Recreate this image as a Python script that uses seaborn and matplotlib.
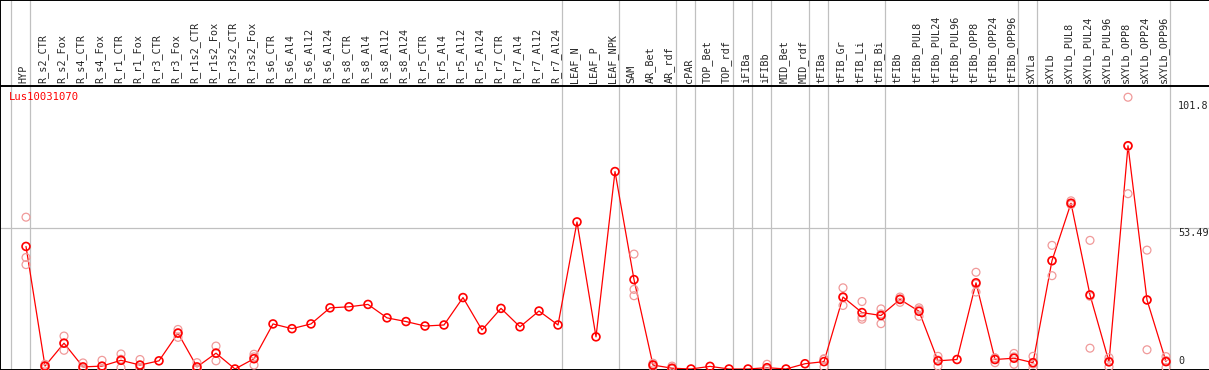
import numpy as np
import pandas as pd
import matplotlib
matplotlib.use("Agg")
import matplotlib.pyplot as plt
import matplotlib.transforms as mtransforms
import seaborn as sns

# Datos del perfil de expresion
gene = "Lus10031070"

samples = ["HYP", "R_s2_CTR", "R_s2_Fox", "R_s4_CTR", "R_s4_Fox", "R_r1_CTR", "R_r1_Fox",
           "R_r3_CTR", "R_r3_Fox", "R_r1s2_CTR", "R_r1s2_Fox", "R_r3s2_CTR", "R_r3s2_Fox",
           "R_s6_CTR", "R_s6_Al4", "R_s6_Al12", "R_s6_Al24", "R_s8_CTR", "R_s8_Al4",
           "R_s8_Al12", "R_s8_Al24", "R_r5_CTR", "R_r5_Al4", "R_r5_Al12", "R_r5_Al24",
           "R_r7_CTR", "R_r7_Al4", "R_r7_Al12", "R_r7_Al24", "LEAF_N", "LEAF_P", "LEAF_NPK",
           "SAM", "AR_Bet", "AR_rdf", "cPAR", "TOP_Bet", "TOP_rdf", "iFIBa", "iFIBb",
           "MID_Bet", "MID_rdf", "tFIBa", "tFIB_Gr", "tFIB_Li", "tFIB_Bi", "tFIBb",
           "tFIBb_PUL8", "tFIBb_PUL24", "tFIBb_PUL96", "tFIBb_OPP8", "tFIBb_OPP24",
           "tFIBb_OPP96", "sXYLa", "sXYLb", "sXYLb_PUL8", "sXYLb_PUL24", "sXYLb_PUL96",
           "sXYLb_OPP8", "sXYLb_OPP24", "sXYLb_OPP96"]

# tamano de cada grupo de muestras (lineas verticales grises)
group_sizes = [1, 28, 3, 3, 1, 2, 1, 1, 2, 1, 3, 7, 1, 7]

means = [46.5, 1.1, 9.8, 0.8, 1.1, 3.3, 1.5, 3.1, 13.6, 0.8, 6.0, 0.0, 3.9,
         17.1, 15.3, 17.1, 23.2, 23.6, 24.5, 19.4, 18.0, 16.3, 16.7, 27.1, 14.8,
         23.0, 16.0, 22.0, 16.7, 55.8, 12.2, 74.9,
         33.9, 1.5, 0.3, 0.0, 1.0, 0.0, 0.0, 0.5, 0.0, 2.0, 2.8,
         27.3, 21.4, 20.3, 26.4, 21.9, 3.1, 3.6, 32.7, 3.6, 4.1,
         2.4, 41.1, 62.9, 28.1, 2.7, 84.7, 26.2, 2.8]

replicates = [[57.6, 42.3, 39.6], [1.8, 0.3, 1.2], [12.5, 7.1, 9.8], [2.3, 0.1, 0.1],
              [3.3, 0.0, 0.0], [5.7, 0.5, 3.7], [3.6, 0.5, 0.4], [], [15.0, 12.0, 13.8],
              [2.4, 0.0, 0.0], [8.7, 3.1, 6.2], [], [5.6, 1.5, 4.6],
              [], [], [], [], [], [], [], [], [], [], [], [], [], [], [], [], [], [], [],
              [43.6, 30.2, 27.8], [2.2, 0.8, 1.5], [1.1, 0.0, 0.0], [], [], [], [],
              [1.8, 0.0, 0.0], [], [], [3.9, 0.8, 3.7],
              [30.8, 24.1, 27.0], [25.6, 18.9, 19.7], [22.8, 17.2, 20.9], [27.3, 25.3, 26.6],
              [23.2, 20.0, 22.5], [4.8, 1.1, 3.4], [], [36.7, 29.2, 32.2], [4.2, 2.4, 4.2],
              [5.9, 1.8, 4.6], [4.8, 0.5, 1.9], [46.9, 35.4, 41.0], [63.8, 62.5, 62.4],
              [48.8, 7.9, 27.6], [4.3, 0.8, 3.0], [103.1, 66.5, 84.5], [45.1, 7.3, 26.2],
              [4.7, 0.5, 3.2]]

y_marks = [101.8, 53.49, 0]

df_mean = pd.DataFrame({"pos": np.arange(len(samples)), "valor": means})
df_rep = pd.DataFrame([(i, v) for i, vals in enumerate(replicates) for v in vals],
                      columns=["pos", "valor"])

sns.set_style("white")
plt.rcParams["font.family"] = ["DejaVu Sans Mono"]

W, H, HDR = 1209, 370, 86
fig = plt.figure(figsize=(W / 100, H / 100), dpi=100)
ax = fig.add_axes([0, 0, 1, (H - HDR) / H])
axh = fig.add_axes([0, (H - HDR) / H, 1, HDR / H])

x0 = -26 / 19
x1 = (W - 26) / 19
gris = "#c0c0c0"

# lineas de grupo
bounds = np.concatenate([[-1], np.cumsum(group_sizes) - 1]) + 0.2
for b in bounds:
    ax.axvline(b, color=gris, lw=0.9, zorder=0)
    axh.axvline(b, color=gris, lw=0.9, zorder=0)
ax.axhline(53.49, color=gris, lw=0.9, zorder=0)

sns.lineplot(data=df_mean, x="pos", y="valor", ax=ax, color="red", lw=0.9, zorder=2)
sns.scatterplot(data=df_rep, x="pos", y="valor", ax=ax, marker="o", s=32,
                facecolor="none", edgecolor="#f09a9a", linewidth=0.9, zorder=3)
sns.scatterplot(data=df_mean, x="pos", y="valor", ax=ax, marker="o", s=32,
                facecolor="none", edgecolor="red", linewidth=1.2, zorder=4)

ax.set_xlim(x0, x1)
ax.set_ylim(-1 / 2.636, (369 - HDR) / 2.636)
ax.set_xticks([])
ax.set_yticks([])
ax.set_xlabel("")
ax.set_ylabel("")

tr = mtransforms.blended_transform_factory(ax.transAxes, ax.transData)
for v in y_marks:
    if v == 0:
        ax.text(1178 / W, v + 1.2, "0", transform=tr, ha="left", va="bottom", fontsize=7.3)
    else:
        ax.text(1178 / W, v - 0.1, f"{v:g}", transform=tr, ha="left", va="top", fontsize=7.3)

ax.text(9 / W, 1 - 11 / (H - HDR), gene, transform=ax.transAxes, color="red",
        ha="left", va="center", fontsize=7.6)

axh.set_xlim(x0, x1)
axh.set_ylim(0, 1)
axh.set_xticks([])
axh.set_yticks([])
for i, lab in enumerate(samples):
    axh.text(i - 0.12, 3 / HDR, lab, rotation=90, ha="center", va="bottom", fontsize=7.3)

for a in (ax, axh):
    for side in ("left", "top", "bottom"):
        a.spines[side].set_color("black")
        a.spines[side].set_linewidth(1.4)
    a.spines["right"].set_visible(False)
ax.spines["top"].set_visible(False)

fig.savefig("out.png", dpi=100)
